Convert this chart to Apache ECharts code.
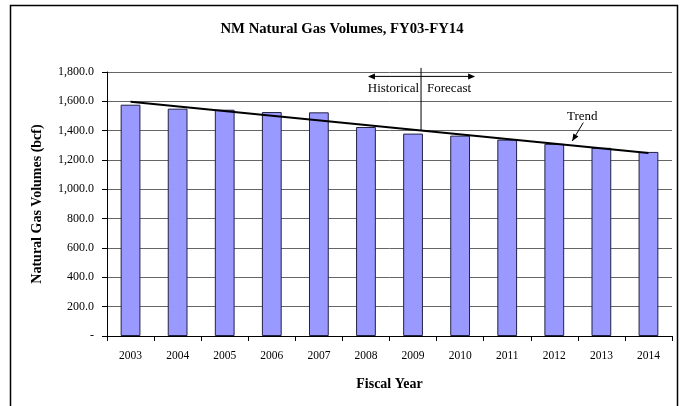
<!DOCTYPE html>
<html>
<head>
<meta charset="utf-8">
<script src="https://cdn.jsdelivr.net/npm/echarts@6/dist/echarts.min.js"></script>
<style>
html,body{margin:0;padding:0;background:#fff;}
#chart{width:684px;height:406px;}
</style>
</head>
<body>
<div id="chart"></div>
<script>
var categories = ['2003','2004','2005','2006','2007','2008','2009','2010','2011','2012','2013','2014'];
var volumes = [1577, 1550, 1543, 1527, 1525, 1425, 1380, 1366, 1339, 1310, 1283, 1255];
var trend = [1597, null, null, null, null, null, null, null, null, null, null, 1248];
var yTicks = [0, 200, 400, 600, 800, 1000, 1200, 1400, 1600, 1800];

var FONT = '"Liberation Serif", "Times New Roman", serif';
var chart = echarts.init(document.getElementById('chart'), null, {renderer: 'canvas'});

function fmt(v) {
  if (v === 0) return '-';
  return v.toLocaleString('en-US', {minimumFractionDigits: 1, maximumFractionDigits: 1});
}

chart.setOption({
  animation: false,
  backgroundColor: '#ffffff',
  title: {
    text: 'NM Natural Gas Volumes, FY03-FY14',
    left: 'center',
    top: 17,
    textStyle: {fontFamily: FONT, fontWeight: 'bold', fontSize: 14.7, color: '#000'}
  },
  grid: {left: 107, right: 12, top: 72, bottom: 70, containLabel: false},
  xAxis: {
    type: 'category',
    data: categories,
    name: 'Fiscal Year',
    nameLocation: 'middle',
    nameGap: 41,
    nameTextStyle: {fontFamily: FONT, fontWeight: 'bold', fontSize: 14, color: '#000'},
    axisLine: {lineStyle: {color: '#000', width: 1}},
    axisTick: {show: true, length: 5, lineStyle: {color: '#000'}},
    axisLabel: {fontFamily: FONT, fontSize: 11.5, color: '#000', margin: 14}
  },
  yAxis: {
    type: 'value',
    min: 0,
    max: yTicks[yTicks.length - 1],
    interval: 200,
    name: 'Natural Gas Volumes (bcf)',
    nameLocation: 'middle',
    nameGap: 63,
    nameTextStyle: {fontFamily: FONT, fontWeight: 'bold', fontSize: 14, color: '#000'},
    axisLine: {show: true, lineStyle: {color: '#000', width: 1}},
    axisTick: {show: true, length: 5, lineStyle: {color: '#000'}},
    axisLabel: {fontFamily: FONT, fontSize: 12, color: '#000', margin: 13, formatter: fmt},
    splitLine: {show: true, lineStyle: {color: '#666', width: 1}}
  },
  series: [
    {
      type: 'bar',
      data: volumes,
      barWidth: '42%',
      itemStyle: {color: '#9999FF', borderColor: '#222244', borderWidth: 1}
    },
    {
      type: 'line',
      data: trend,
      connectNulls: true,
      symbol: 'none',
      lineStyle: {color: '#000', width: 2},
      z: 5
    }
  ]
});

function px(cat, val) {
  return chart.convertToPixel({xAxisIndex: 0, yAxisIndex: 0}, [cat, val]);
}
var p9 = px('2009', 1800), p10 = px('2010', 1800);
var divX = p9[0] + (p10[0] - p9[0]) * 0.17;
var arrowY = px('2009', 1770)[1];
var divTop = px('2009', 1828)[1];
var divBot = px('2009', 1400)[1];
var leftEnd = px('2008', 1770)[0] + 2;
var rightEnd = px('2010', 1770)[0] + 15;
var textY = px('2009', 1690)[1];
var c12 = px('2012', 0)[0];
var trendTxY = px('2012', 1496)[1];
var aTop = [c12 + 29, px('2012', 1455)[1]];
var aBot = [c12 + 18, px('2012', 1330)[1]];

function arrowHead(tip, from) {
  var dx = tip[0] - from[0], dy = tip[1] - from[1];
  var L = Math.sqrt(dx * dx + dy * dy);
  var ux = dx / L, uy = dy / L;
  var len = 7, w = 3;
  var bx = tip[0] - ux * len, by = tip[1] - uy * len;
  return {
    type: 'polygon',
    shape: {points: [[tip[0], tip[1]], [bx - uy * w, by + ux * w], [bx + uy * w, by - ux * w]]},
    style: {fill: '#000'}
  };
}

chart.setOption({
  graphic: [
    {type: 'rect', shape: {x: 10.5, y: 5.5, width: 667, height: 420}, style: {fill: null, stroke: '#000', lineWidth: 1.5}, silent: true},
    {type: 'line', shape: {x1: divX, y1: divTop, x2: divX, y2: divBot}, style: {stroke: '#000', lineWidth: 1}},
    {type: 'line', shape: {x1: divX, y1: arrowY, x2: leftEnd + 4, y2: arrowY}, style: {stroke: '#000', lineWidth: 1}},
    arrowHead([leftEnd, arrowY], [divX, arrowY]),
    {type: 'line', shape: {x1: divX, y1: arrowY, x2: rightEnd - 4, y2: arrowY}, style: {stroke: '#000', lineWidth: 1}},
    arrowHead([rightEnd, arrowY], [divX, arrowY]),
    {type: 'text', x: divX - 2, y: textY, style: {text: 'Historical', font: '13px ' + FONT, fill: '#000', textAlign: 'right', textVerticalAlign: 'middle'}},
    {type: 'text', x: divX + 6, y: textY, style: {text: 'Forecast', font: '13px ' + FONT, fill: '#000', textAlign: 'left', textVerticalAlign: 'middle'}},
    {type: 'text', x: c12 + 28, y: trendTxY, style: {text: 'Trend', font: '13px ' + FONT, fill: '#000', textAlign: 'center', textVerticalAlign: 'middle'}},
    {type: 'line', shape: {x1: aTop[0], y1: aTop[1], x2: aBot[0], y2: aBot[1]}, style: {stroke: '#000', lineWidth: 1}},
    arrowHead(aBot, aTop)
  ]
});
</script>
</body>
</html>
